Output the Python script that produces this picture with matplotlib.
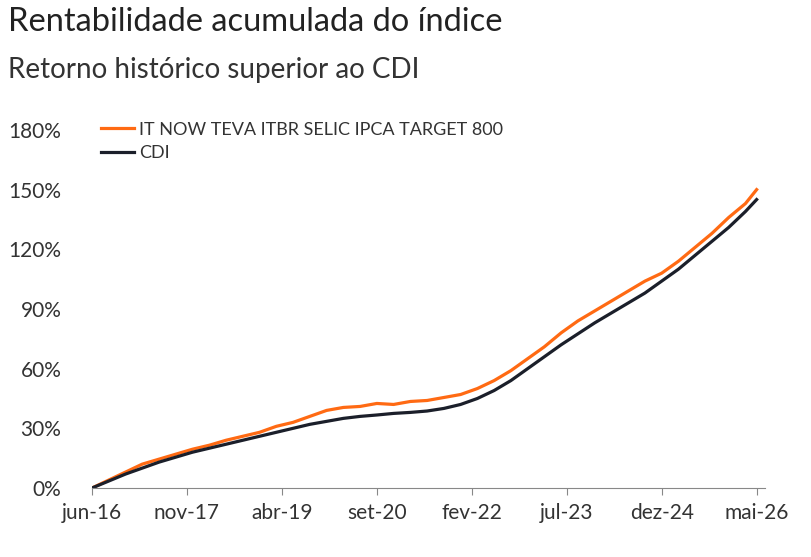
import matplotlib.pyplot as plt

# meses desde jun-16 (pontos trimestrais)
months = list(range(0, 118, 3)) + [119]
cdi = [0, 3.5, 7, 10, 13, 15.5, 18, 20, 22, 24, 26, 28, 30, 32, 33.5, 35, 36, 36.7, 37.5, 38,
       38.7, 40, 42, 45, 49, 54, 60, 66, 72, 77.5, 83, 88, 93, 98, 104, 110, 117, 124, 131, 139, 145]
indice = [0, 4, 8, 12, 14.5, 17, 19.5, 21.5, 24, 26, 28, 31, 33, 36, 39, 40.5, 41, 42.5, 42, 43.5,
          44, 45.5, 47, 50, 54, 59, 65, 71, 78, 84, 89, 94, 99, 104, 108, 114, 121, 128, 136, 143, 150]
tick_months = [0, 17, 34, 51, 68, 85, 102, 119]
tick_labels = ["jun-16", "nov-17", "abr-19", "set-20", "fev-22", "jul-23", "dez-24", "mai-26"]
y_ticks = [0, 30, 60, 90, 120, 150, 180]

plt.rcParams['font.family'] = ['Lato', 'DejaVu Sans']
fig = plt.figure(figsize=(8.12, 5.57), dpi=100)
ax = fig.add_axes([92 / 812, 1 - 488 / 557, 673 / 812, 368 / 557])

ax.plot(months, indice, color='#FF6A13', lw=2.3, label='IT NOW TEVA ITBR SELIC IPCA TARGET 800')
ax.plot(months, cdi, color='#1B1F2A', lw=2.3, label='CDI')

ax.set_xlim(0, 120.5)
ax.set_ylim(0, 185)
ax.set_xticks(tick_months)
ax.set_xticklabels(tick_labels)
ax.set_yticks(y_ticks)
ax.set_yticklabels([f"{v}%" for v in y_ticks])
ax.tick_params(axis='x', length=5, color='#888888', labelsize=15, labelcolor='#333333', pad=6)
ax.tick_params(axis='y', length=0, labelsize=15, labelcolor='#333333', pad=22)
for s in ['top', 'right', 'left']:
    ax.spines[s].set_visible(False)
ax.spines['bottom'].set_color('#888888')

ax.legend(loc='upper left', bbox_to_anchor=(0.0, 1.02), frameon=False, fontsize=13,
          handlelength=1.8, labelspacing=0.4, borderpad=0, handletextpad=0.3,
          labelcolor='#333333')

fig.text(8 / 812, 1 - 22 / 557, "Rentabilidade acumulada do índice", fontsize=23.5,
         color='#222222', va='center')
fig.text(8 / 812, 1 - 70 / 557, "Retorno histórico superior ao CDI", fontsize=20,
         color='#333333', va='center')

fig.savefig('out.png', dpi=100)
